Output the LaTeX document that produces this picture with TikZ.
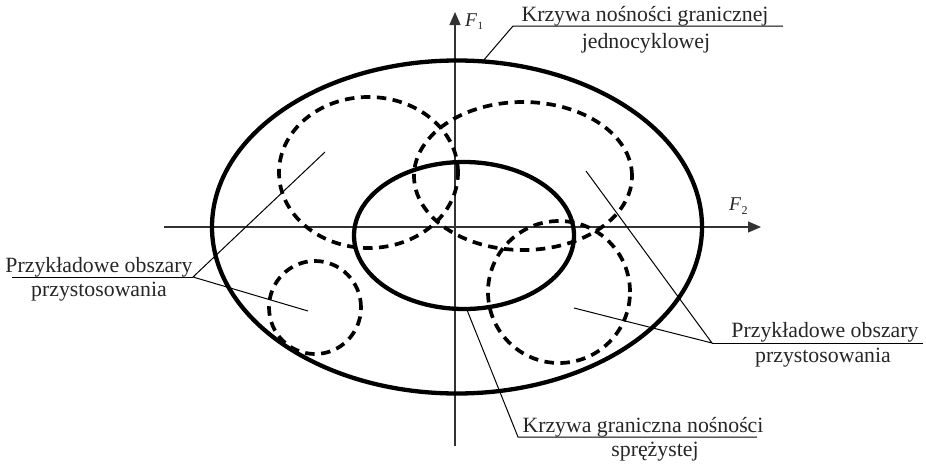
\documentclass[tikz,border=0pt]{standalone}
\usepackage{fontspec}
\setmainfont{Liberation Serif}
\usetikzlibrary{arrows.meta}
\begin{document}
\begin{tikzpicture}[x=1pt,y=-1pt,
  axisline/.style={line width=1.3pt, draw=black!80, -{Triangle[length=13pt,width=11pt]}},
  solidcurve/.style={line width=4.3pt, draw=black},
  dashcurve/.style={line width=3.7pt, draw=black, dash pattern=on 9.5pt off 6.5pt},
  leader/.style={line width=1pt, draw=black},
  lbl/.style={font=\fontsize{21.8}{26}\selectfont, inner sep=0pt, anchor=base, text=black!85},
  axlbl/.style={font=\fontsize{19.5}{22}\selectfont\itshape, inner sep=0pt, anchor=base west, text=black!85}
]
\useasboundingbox (0,0) rectangle (926,463);

% axes
\coordinate (xs) at (164,227);
\coordinate (xe) at (761,227);
\coordinate (ys) at (455,446);
\coordinate (ye) at (455,12);
\draw[axisline] (xs) -- (xe);
\draw[axisline] (ys) -- (ye);
\node[axlbl] (F1) at (465,26) {F\kern0.5pt\raisebox{-0.2em}{\fontsize{11}{12}\selectfont\upshape 1}};
\node[axlbl] (F2) at (729,210) {F\kern0.5pt\raisebox{-0.25em}{\fontsize{12}{13}\selectfont\upshape 2}};

% solid curves
\draw[solidcurve] (457,227) ellipse [x radius=245pt, y radius=166.5pt];
\draw[solidcurve] (464,235.5) ellipse [x radius=110pt, y radius=73.5pt];

% dashed regions
\draw[dashcurve] (368.5,172.5) ellipse [x radius=89.5pt, y radius=75.5pt];
\draw[dashcurve] (523,176) ellipse [x radius=109pt, y radius=74pt];
\draw[dashcurve] (559,292) ellipse [x radius=71pt, y radius=71pt];
\draw[dashcurve] (315,307.5) ellipse [x radius=46pt, y radius=46.5pt];

% top label
\coordinate (oA) at (483,61);
\coordinate (tl) at (513,26);
\coordinate (tr) at (783,26);
\draw[leader] (oA) -- (tl) -- (tr);
\node[lbl] (T1) at (645,21) {Krzywa nośności granicznej};
\node[lbl] (T2) at (646,48) {jednocyklowej};

% left label
\coordinate (pL1) at (325,152);
\coordinate (pL2) at (308,311);
\coordinate (lj) at (193,277);
\coordinate (ll) at (12,277);
\draw[leader] (pL1) -- (lj) -- (pL2);
\draw[leader] (ll) -- (lj);
\node[lbl] (L1) at (99,272) {Przykładowe obszary};
\node[lbl] (L2) at (99,296) {przystosowania};

% right label
\coordinate (pR1) at (586,171);
\coordinate (pR2) at (574,308);
\coordinate (rj) at (712,343);
\coordinate (rr) at (923,343);
\draw[leader] (pR1) -- (rj) -- (pR2);
\draw[leader] (rj) -- (rr);
\node[lbl] (R1) at (825,337) {Przykładowe obszary};
\node[lbl] (R2) at (823,362) {przystosowania};

% bottom label
\coordinate (pB) at (467,310);
\coordinate (bj) at (518,437);
\coordinate (br) at (757,437);
\draw[leader] (pB) -- (bj) -- (br);
\node[lbl] (B1) at (643,432) {Krzywa graniczna nośności};
\node[lbl] (B2) at (655,456) {sprężystej};
\end{tikzpicture}
\end{document}
